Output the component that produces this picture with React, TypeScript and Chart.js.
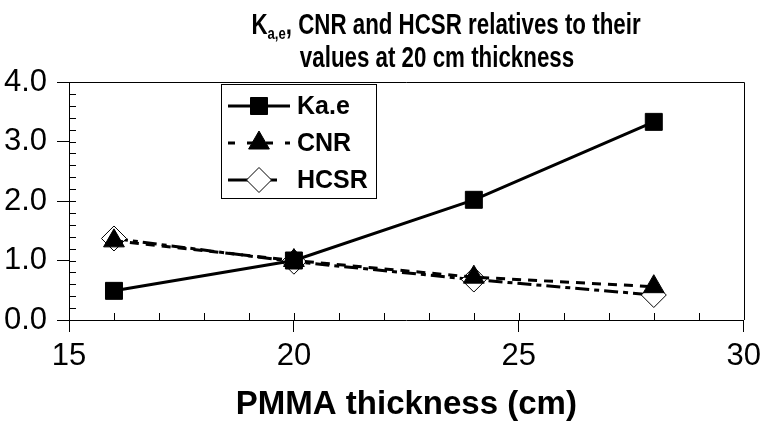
import React, { useEffect, useRef } from "react";
import { Chart, registerables } from "chart.js";
import { drawPoint } from "chart.js/helpers";

Chart.register(...registerables);

// ---- data ----
const thickness = [16, 20, 24, 28];
const kaeValues = [0.49, 1.0, 2.02, 3.33];
const cnrValues = [1.33, 1.0, 0.72, 0.56];
const hcsrValues = [1.37, 0.98, 0.68, 0.42];
const seriesNames = ["Ka.e", "CNR", "HCSR"];
const titleMain = "K";
const titleSub = "a,e";
const titleRest = ", CNR and HCSR relatives to their";
const titleLine2 = "values at 20 cm thickness";
const xAxisTitle = "PMMA thickness (cm)";
const xRange = [15, 30];
const yRange = [0, 4];

const FONT = "'Liberation Sans', Arial, Helvetica, sans-serif";
const SQUEEZE = 0.77;

const decorPlugin = {
  id: "decor",
  beforeDatasetsDraw(chart: any) {
    const { ctx, chartArea, scales } = chart;
    const { left, right, top, bottom } = chartArea;
    ctx.save();
    ctx.strokeStyle = "#000";
    ctx.lineWidth = 1;
    ctx.beginPath();
    ctx.moveTo(left, Math.round(top) + 0.5);
    ctx.lineTo(Math.round(right) + 0.5, Math.round(top) + 0.5);
    ctx.lineTo(Math.round(right) + 0.5, bottom);
    ctx.stroke();
    const xs = scales.x;
    const ys = scales.y;
    ctx.beginPath();
    for (let v = xRange[0] + 1; v < xRange[1]; v += 1) {
      const px = Math.round(xs.getPixelForValue(v)) + 0.5;
      ctx.moveTo(px, bottom);
      ctx.lineTo(px, bottom - 7);
    }
    for (let i = 1; i < 20; i++) {
      const v = i * 0.2;
      const py = Math.round(ys.getPixelForValue(v)) + 0.5;
      ctx.moveTo(left, py);
      ctx.lineTo(left + 7, py);
    }
    ctx.stroke();
    ctx.restore();
  },
  afterDraw(chart: any) {
    const { ctx, chartArea } = chart;
    const { left, right, top } = chartArea;
    ctx.save();
    ctx.fillStyle = "#000";
    ctx.textBaseline = "alphabetic";
    // Title (bold, condensed)
    const bigFont = `bold 29px ${FONT}`;
    const subFont = `bold 17px ${FONT}`;
    ctx.font = bigFont;
    const wMain = ctx.measureText(titleMain).width * SQUEEZE;
    const wRest = ctx.measureText(titleRest).width * SQUEEZE;
    const w2 = ctx.measureText(titleLine2).width * SQUEEZE;
    ctx.font = subFont;
    const wSub = ctx.measureText(titleSub).width * SQUEEZE;
    const total = wMain + wSub + wRest;
    const drawSq = (t: string, x: number, y: number, font: string) => {
      ctx.save();
      ctx.font = font;
      ctx.textAlign = "left";
      ctx.translate(x, y);
      ctx.scale(SQUEEZE, 1);
      ctx.fillText(t, 0, 0);
      ctx.restore();
    };
    let x = 446 - total / 2;
    const b1 = 34;
    drawSq(titleMain, x, b1, bigFont);
    x += wMain;
    drawSq(titleSub, x, b1 + 5, subFont);
    x += wSub;
    drawSq(titleRest, x, b1, bigFont);
    drawSq(titleLine2, 437 - w2 / 2, 67, bigFont);
    // X axis title
    ctx.textAlign = "center";
    ctx.font = `bold 33px ${FONT}`;
    ctx.fillText(xAxisTitle, (left + right) / 2, 414);

    // Legend
    const lx = left + 152;
    const ly = top + 2;
    const lw = 155;
    const lh = 114;
    ctx.fillStyle = "#fff";
    ctx.fillRect(lx, ly, lw, lh);
    ctx.strokeStyle = "#000";
    ctx.lineWidth = 1;
    ctx.strokeRect(Math.round(lx) + 0.5, Math.round(ly) + 0.5, lw, lh);
    const rows = [22, 59, 96];
    chart.data.datasets.forEach((ds: any, i: number) => {
      const y = ly + rows[i];
      const x0 = lx + 7;
      const x1 = lx + 69;
      ctx.save();
      ctx.strokeStyle = "#000";
      ctx.lineWidth = ds.borderWidth;
      ctx.setLineDash(ds.legendDash || []);
      ctx.beginPath();
      ctx.moveTo(x0, y);
      ctx.lineTo(x1, y);
      ctx.stroke();
      ctx.setLineDash([]);
      ctx.fillStyle = ds.pointBackgroundColor;
      ctx.strokeStyle = ds.pointBorderColor;
      ctx.lineWidth = ds.pointBorderWidth;
      drawPoint(
        ctx,
        { pointStyle: ds.pointStyle, radius: ds.pointRadius, rotation: 0, borderWidth: ds.pointBorderWidth },
        (x0 + x1) / 2,
        y
      );
      ctx.restore();
      ctx.fillStyle = "#000";
      ctx.font = `bold 25px ${FONT}`;
      ctx.textAlign = "left";
      ctx.textBaseline = "middle";
      ctx.fillText(seriesNames[i], lx + 76, y + 1);
    });
    ctx.restore();
  },
};

export default function App() {
  const ref = useRef<HTMLCanvasElement | null>(null);
  useEffect(() => {
    document.body.style.margin = "0";
    const canvas = ref.current!;
    const mk = (vals: number[]) => thickness.map((t, i) => ({ x: t, y: vals[i] }));
    const chart = new Chart(canvas, {
      type: "line",
      data: {
        datasets: [
          {
            label: seriesNames[0],
            data: mk(kaeValues),
            borderColor: "#000",
            borderWidth: 3,
            borderDash: [],
            legendDash: [],
            pointStyle: "rect",
            pointRadius: 12,
            pointBackgroundColor: "#000",
            pointBorderColor: "#000",
            pointBorderWidth: 1,
            tension: 0,
          },
          {
            label: seriesNames[1],
            data: mk(cnrValues),
            borderColor: "#000",
            borderWidth: 3,
            borderDash: [9, 7],
            legendDash: [7, 12],
            pointStyle: "triangle",
            pointRadius: 12,
            pointBackgroundColor: "#000",
            pointBorderColor: "#000",
            pointBorderWidth: 1,
            tension: 0,
          },
          {
            label: seriesNames[2],
            data: mk(hcsrValues),
            borderColor: "#000",
            borderWidth: 3,
            borderDash: [14, 5, 5, 5],
            legendDash: [24, 18, 7, 20],
            pointStyle: "rectRot",
            pointRadius: 12.5,
            pointBackgroundColor: "#fff",
            pointBorderColor: "#000",
            pointBorderWidth: 1,
            tension: 0,
          },
        ],
      } as any,
      options: {
        animation: false,
        responsive: false,
        devicePixelRatio: 1,
        layout: { padding: { top: 82, right: 19, left: 0, bottom: 0 } },
        plugins: { legend: { display: false }, title: { display: false }, tooltip: { enabled: false } },
        scales: {
          x: {
            type: "linear",
            min: xRange[0],
            max: xRange[1],
            ticks: { stepSize: 5, color: "#000", font: { family: FONT, size: 31 }, padding: 6, maxRotation: 0 },
            grid: { drawOnChartArea: false, drawTicks: true, tickLength: 12, color: "#000", lineWidth: 1 },
            border: { display: true, color: "#000", width: 1 },
            afterFit: (s: any) => {
              s.height = 106;
            },
          },
          y: {
            type: "linear",
            min: yRange[0],
            max: yRange[1],
            ticks: {
              stepSize: 1,
              color: "#000",
              font: { family: FONT, size: 31 },
              padding: 10,
              callback: (v: any) => Number(v).toFixed(1),
            },
            grid: { drawOnChartArea: false, drawTicks: true, tickLength: 12, color: "#000", lineWidth: 1 },
            border: { display: true, color: "#000", width: 1 },
            afterFit: (s: any) => {
              s.width = 69;
            },
          },
        },
      } as any,
      plugins: [decorPlugin],
    });
    return () => chart.destroy();
  }, []);
  return (
    <div style={{ width: 767, height: 426, background: "#fff" }}>
      <canvas ref={ref} width={767} height={426} style={{ width: 767, height: 426, display: "block" }} />
    </div>
  );
}
